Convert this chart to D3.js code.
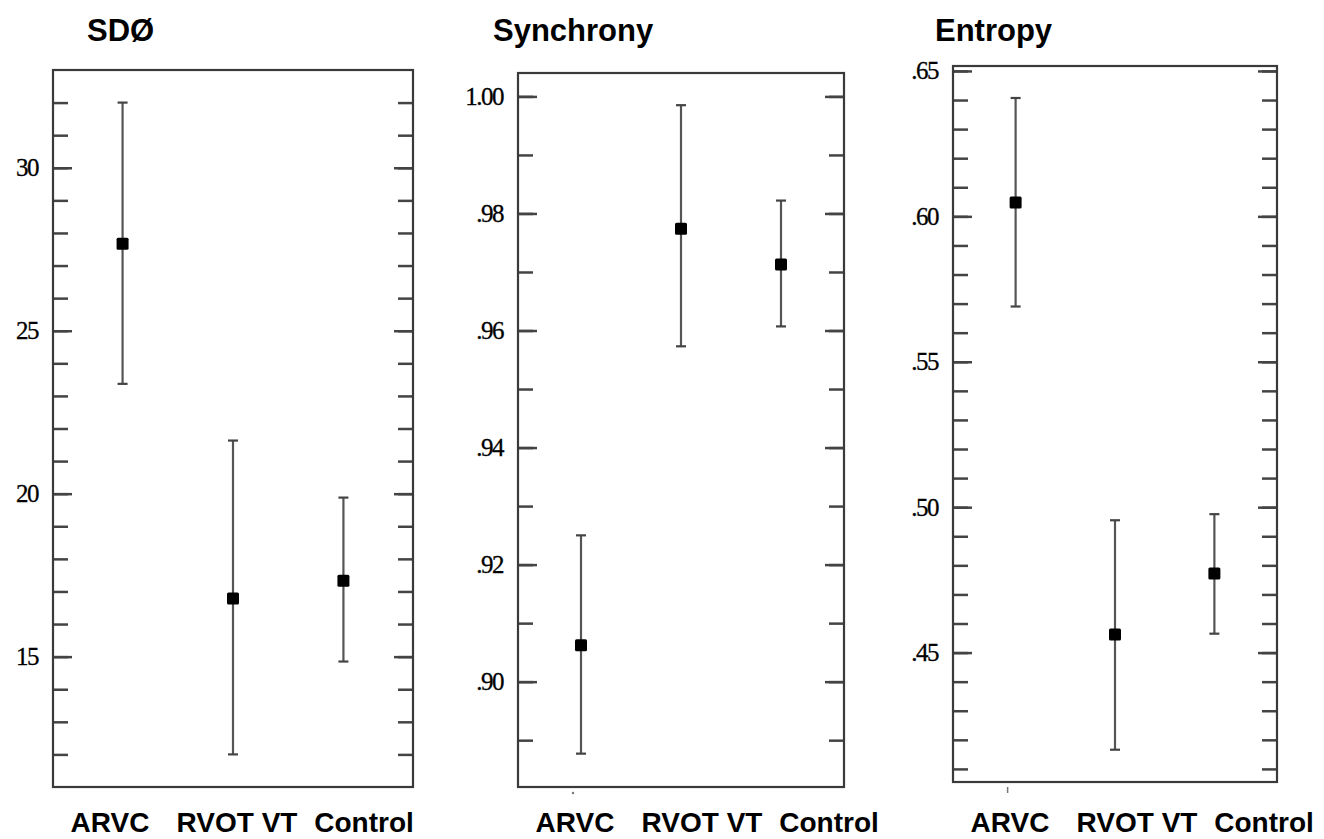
<!DOCTYPE html>
<html lang="en">
<head>
<meta charset="UTF-8">
<title>SDØ, Synchrony, Entropy by group</title>
<script src="https://d3js.org/d3.v7.min.js"></script>
<style>
  body { margin: 0; background: #fff; }
  .title { font-family: "Liberation Sans", Arial, sans-serif; font-weight: bold; font-size: 31px; fill: #000; }
  .grp { font-family: "Liberation Sans", Arial, sans-serif; font-weight: bold; font-size: 28px; fill: #000; }
  .tick text { font-family: "Liberation Serif", "Times New Roman", serif; font-size: 25px; fill: #000; letter-spacing: -1.5px; stroke: #000; stroke-width: 0.3; }
  .tick line { stroke: #444; stroke-width: 2.5; }
</style>
</head>
<body>
<svg id="chart" width="1324" height="839"></svg>
<script>
// groups on the x axis (same for all three panels)
var groups = ["ARVC", "RVOT VT", "Control"];

// SDØ: mean and 95% CI
var sdMean = [27.67, 16.78, 17.33];
var sdLow  = [23.37, 12.00, 14.85];
var sdHigh = [32.00, 21.63, 19.88];
var sdTicks = [15, 20, 25, 30];

// Synchrony
var syncMean = [0.9062, 0.9774, 0.9713];
var syncLow  = [0.8877, 0.9573, 0.9607];
var syncHigh = [0.9250, 0.9985, 0.9822];
var syncTicks = [0.90, 0.92, 0.94, 0.96, 0.98, 1.00];

// Entropy
var entMean = [0.6048, 0.4562, 0.4772];
var entLow  = [0.5690, 0.4166, 0.4565];
var entHigh = [0.6407, 0.4955, 0.4976];
var entTicks = [0.45, 0.50, 0.55, 0.60, 0.65];

var decFmt = function(d) { return d3.format(".2f")(d).replace(/^0/, ""); };

var panels = [
  { title: "SDØ", mean: sdMean, low: sdLow, high: sdHigh, ticks: sdTicks,
    minor: d3.range(12, 32.5, 1), domain: [11, 33], fmt: d3.format("d"),
    x0: 53, y0: 70, w: 360, h: 717, titleX: 87, mark: false },
  { title: "Synchrony", mean: syncMean, low: syncLow, high: syncHigh, ticks: syncTicks,
    minor: d3.range(0.89, 1.0049, 0.01), domain: [0.882, 1.004], fmt: decFmt,
    x0: 518, y0: 73, w: 326, h: 714, titleX: 493, mark: "dot" },
  { title: "Entropy", mean: entMean, low: entLow, high: entHigh, ticks: entTicks,
    minor: d3.range(0.41, 0.6549, 0.01), domain: [0.4055, 0.6517], fmt: decFmt,
    x0: 953, y0: 66, w: 324, h: 716, titleX: 935, mark: "tick" }
];

var svg = d3.select("#chart");

panels.forEach(function(p) {
  svg.append("text").attr("class", "title")
    .attr("x", p.titleX).attr("y", 41).text(p.title);

  var g = svg.append("g").attr("transform", "translate(" + p.x0 + "," + p.y0 + ")");

  var x = d3.scalePoint().domain(groups).range([0, p.w]).padding(0.63);
  var y = d3.scaleLinear().domain(p.domain).range([p.h, 0]);

  // minor ticks, both sides, pointing inward
  g.append("g").call(d3.axisLeft(y).tickValues(p.minor).tickSize(-15).tickFormat(""));
  g.append("g").attr("transform", "translate(" + p.w + ",0)")
    .call(d3.axisRight(y).tickValues(p.minor).tickSize(-15).tickFormat(""));
  // major ticks with labels
  g.append("g").call(d3.axisLeft(y).tickValues(p.ticks).tickSize(-19).tickPadding(15).tickFormat(p.fmt));
  g.append("g").attr("transform", "translate(" + p.w + ",0)")
    .call(d3.axisRight(y).tickValues(p.ticks).tickSize(-19).tickFormat(""));
  g.selectAll(".domain").remove();

  // frame
  g.append("rect").attr("width", p.w).attr("height", p.h)
    .attr("fill", "none").attr("stroke", "#3a3a3a").attr("stroke-width", 2.2);

  // error bars
  var bars = g.selectAll(".bar").data(groups).enter().append("g").attr("class", "bar");
  bars.append("line")
    .attr("x1", function(d) { return x(d); }).attr("x2", function(d) { return x(d); })
    .attr("y1", function(d, i) { return y(p.low[i]); })
    .attr("y2", function(d, i) { return y(p.high[i]); })
    .attr("stroke", "#555").attr("stroke-width", 2.2);
  ["low", "high"].forEach(function(k) {
    bars.append("line")
      .attr("x1", function(d) { return x(d) - 5; }).attr("x2", function(d) { return x(d) + 5; })
      .attr("y1", function(d, i) { return y(p[k][i]); })
      .attr("y2", function(d, i) { return y(p[k][i]); })
      .attr("stroke", "#444").attr("stroke-width", 2.2);
  });
  bars.append("rect")
    .attr("x", function(d) { return x(d) - 6; })
    .attr("y", function(d, i) { return y(p.mean[i]) - 6; })
    .attr("width", 12).attr("height", 12).attr("rx", 1.5)
    .attr("fill", "#000");

  // stray little mark under the first group
  if (p.mark === "dot") {
    g.append("circle").attr("cx", x(groups[0]) - 8).attr("cy", p.h + 6).attr("r", 1.2).attr("fill", "#777");
  } else if (p.mark === "tick") {
    g.append("line").attr("x1", x(groups[0]) - 8).attr("x2", x(groups[0]) - 8)
      .attr("y1", p.h + 5).attr("y2", p.h + 11).attr("stroke", "#777").attr("stroke-width", 1.5);
  }

  // group labels
  var lx = d3.scalePoint().domain(groups).range([57, 311]);
  g.selectAll(".grp").data(groups).enter().append("text").attr("class", "grp")
    .attr("x", function(d) { return lx(d); })
    .attr("y", 832 - p.y0)
    .attr("text-anchor", "middle")
    .text(function(d) { return d; });
});
</script>
</body>
</html>
